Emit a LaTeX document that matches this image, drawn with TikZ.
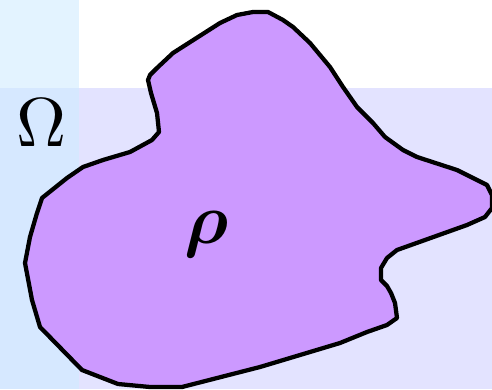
\documentclass[tikz,border=0pt]{standalone}
\usepackage{amsmath,amssymb,bm}
\definecolor{stripblue}{HTML}{E3F3FF}
\definecolor{overlapblue}{HTML}{D6E8FF}
\definecolor{lavender}{HTML}{E3E3FF}
\definecolor{blobfill}{HTML}{CC99FF}
\tikzset{blob/.style={draw=black,fill=blobfill,line width=3.2pt,line join=round}}
\begin{document}
\begin{tikzpicture}[x=0.75pt,y=-0.75pt]
\useasboundingbox (0,0) rectangle (492,389);
\fill[lavender] (0,88) rectangle (492,389);
\fill[stripblue] (0,0) rectangle (79,88);
\fill[overlapblue] (0,88) rectangle (79,389);
\draw[blob] (148,80) -- (150,75) -- (157,68) -- (173,53) -- (220,23) -- (237,15) -- (253,12) -- (268,12) -- (283,20) -- (293,27) -- (310,43) -- (330,67) -- (343,87) -- (357,107) -- (373,123) -- (385,137) -- (403,150) -- (417,157) -- (457,170) -- (487,185) -- (492,195) -- (492,208) -- (485,217) -- (467,225) -- (397,250) -- (387,258) -- (381,268) -- (381,280) -- (387,286) -- (391,293) -- (395,303) -- (397,318) -- (387,325) -- (367,332) -- (340,343) -- (260,367) -- (182,387) -- (150,387) -- (118,384) -- (82,370) -- (40,327) -- (32,300) -- (25,263) -- (30,237) -- (37,213) -- (42,198) -- (67,178) -- (83,167) -- (103,160) -- (130,152) -- (152,140) -- (159,132) -- (157,113) -- (151,93) -- cycle;
\node[scale=5.2,inner sep=0pt] (omega) at (42,123) {$\Omega$};
\node[scale=5.4,inner sep=0pt] (rho) at (207,234) {$\bm{\rho}$};
\end{tikzpicture}
\end{document}
